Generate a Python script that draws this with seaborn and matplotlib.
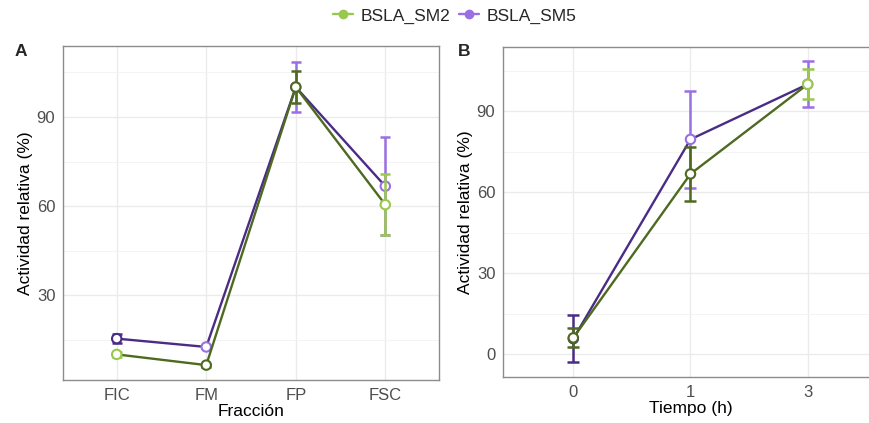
import numpy as np
import pandas as pd
import matplotlib
matplotlib.use("Agg")
import matplotlib.pyplot as plt
from matplotlib.lines import Line2D
from matplotlib.ticker import MultipleLocator
import seaborn as sns

# ---- data -------------------------------------------------------------
fracciones = ["FIC", "FM", "FP", "FSC"]
sm2_frac = [10.2, 6.6, 100.0, 60.5]
sm2_frac_sd = [0.8, 0.5, 5.4, 10.3]
sm5_frac = [15.5, 12.7, 100.0, 66.7]
sm5_frac_sd = [1.4, 0.5, 8.45, 16.5]

tiempos = ["0", "1", "3"]
sm2_t = [6.1, 66.8, 100.0]
sm2_t_sd = [3.5, 10.0, 5.5]
sm5_t = [5.8, 79.6, 100.0]
sm5_t_sd = [8.8, 17.9, 8.45]

series = ["BSLA_SM2", "BSLA_SM5"]

# ---- styling ----------------------------------------------------------
sns.set_theme(style="whitegrid")
plt.rcParams["font.family"] = ["Liberation Sans", "DejaVu Sans"]

light = {"BSLA_SM2": "#98C94C", "BSLA_SM5": "#9A6FE3"}
dark = {"BSLA_SM2": "#4E6A21", "BSLA_SM5": "#4A2C86"}
# which points get the dark outline / error bar
dark_pts_a = {"BSLA_SM2": [False, True, True, False],
              "BSLA_SM5": [True, False, False, False]}
dark_pts_b = {"BSLA_SM2": [True, True, False],
              "BSLA_SM5": [True, False, False]}

fig = plt.figure(figsize=(8.7, 4.23), dpi=100)
axA = fig.add_axes([63 / 870, 43 / 423, 376 / 870, 334 / 423])
axB = fig.add_axes([503 / 870, 45.7 / 423, 375 / 870, 330.6 / 423])


def draw_panel(ax, cats, data, darkmap, capsize, ylim, xlabel):
    order = ["BSLA_SM5", "BSLA_SM2"]  # green drawn on top
    for k, name in enumerate(order):
        vals, sds = data[name]
        df = pd.DataFrame({"x": pd.Categorical(cats, categories=cats, ordered=True),
                           "y": vals})
        z = 3 + 2 * k
        sns.lineplot(data=df, x="x", y="y", ax=ax, color=dark[name],
                     linewidth=1.7, sort=False, zorder=z)
        cols = [dark[name] if d else light[name] for d in darkmap[name]]
        for i, (v, s, c) in enumerate(zip(vals, sds, cols)):
            ax.errorbar(i, v, yerr=s, color=c, capsize=capsize, capthick=1.8,
                        elinewidth=1.8, fmt="none", zorder=z + 0.3)
        sns.scatterplot(data=df, x="x", y="y", ax=ax, color="white",
                        edgecolor=cols, s=46, linewidth=1.5, zorder=z + 0.6,
                        legend=False)
    ax.set_xlim(-0.6, len(cats) - 1 + 0.6)
    ax.set_ylim(*ylim)
    ax.yaxis.set_major_locator(MultipleLocator(30))
    ax.yaxis.set_minor_locator(MultipleLocator(15))
    ax.grid(which="major", color="#EBEBEB", linewidth=1.0)
    ax.grid(which="minor", axis="y", color="#F3F3F3", linewidth=0.6)
    ax.set_axisbelow(True)
    for sp in ax.spines.values():
        sp.set_color("#8C8C8C")
        sp.set_linewidth(1.0)
    ax.tick_params(axis="both", which="major", length=3.5, width=0.9,
                   color="#555555", labelsize=12, labelcolor="#4D4D4D", pad=2)
    ax.tick_params(axis="both", which="minor", length=0)
    ax.set_xlabel(xlabel, fontsize=12.5, color="black", labelpad=1)
    ax.set_ylabel("Actividad relativa (%)", fontsize=12.5, color="black",
                  labelpad=3)


draw_panel(axA, fracciones,
           {"BSLA_SM2": (sm2_frac, sm2_frac_sd), "BSLA_SM5": (sm5_frac, sm5_frac_sd)},
           dark_pts_a, 3.3, (1.6, 113.8), "Fracción")
draw_panel(axB, tiempos,
           {"BSLA_SM2": (sm2_t, sm2_t_sd), "BSLA_SM5": (sm5_t, sm5_t_sd)},
           dark_pts_b, 4.3, (-8.5, 113.9), "Tiempo (h)")

fig.text(15 / 870, 1 - 52 / 423, "A", fontsize=12.5, fontweight="bold",
         ha="left", va="center")
fig.text(458 / 870, 1 - 52 / 423, "B", fontsize=12.5, fontweight="bold",
         ha="left", va="center")

handles = [Line2D([0], [0], color=light[n], marker="o", markersize=6,
                  linewidth=1.7) for n in series]
fig.legend(handles, series, loc="center", bbox_to_anchor=(455 / 870, 1 - 16 / 423),
           ncol=2, frameon=False, fontsize=12.5, handlelength=1.15,
           handletextpad=0.45, columnspacing=0.5)

fig.savefig("out.png", dpi=100)
